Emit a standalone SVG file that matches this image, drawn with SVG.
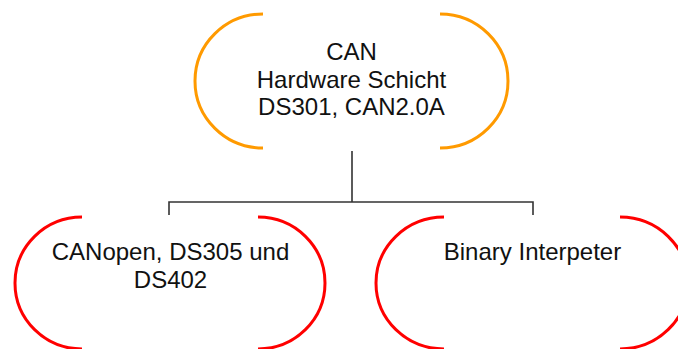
<svg xmlns="http://www.w3.org/2000/svg" width="678" height="349" viewBox="0 0 678 349">
<style>
.orange{fill:none;stroke:#FF9A00;stroke-width:3}
.red{fill:none;stroke:#FF0000;stroke-width:3}
.conn{fill:none;stroke:#333333;stroke-width:1.6}
text{font-family:"Liberation Sans",Arial,sans-serif;font-size:24px;fill:#111111;text-anchor:middle}
</style>
<rect width="678" height="349" fill="#ffffff"/>
<g id="connectors">
<path class="conn" d="M352,151 V202 M169,215 V202 H533 V215"/>
</g>
<g id="node-can">
<path class="orange" d="M263,14 A68,67 0 0 0 263,148 M440,14 A68,67 0 0 1 440,148"/>
<text x="351.5" y="60">CAN</text>
<text x="351.5" y="87.5">Hardware Schicht</text>
<text x="351.5" y="115">DS301, CAN2.0A</text>
</g>
<g id="node-canopen">
<path class="red" d="M82,217 A67,66 0 0 0 82,349 M258,217 A67,66 0 0 1 258,349"/>
<text x="170.5" y="260">CANopen, DS305 und</text>
<text x="170.5" y="288">DS402</text>
</g>
<g id="node-binary">
<path class="red" d="M444,217 A68,66 0 0 0 444,349 M620,217 A68,66 0 0 1 620,349"/>
<text x="532.5" y="260">Binary Interpeter</text>
</g>
</svg>
